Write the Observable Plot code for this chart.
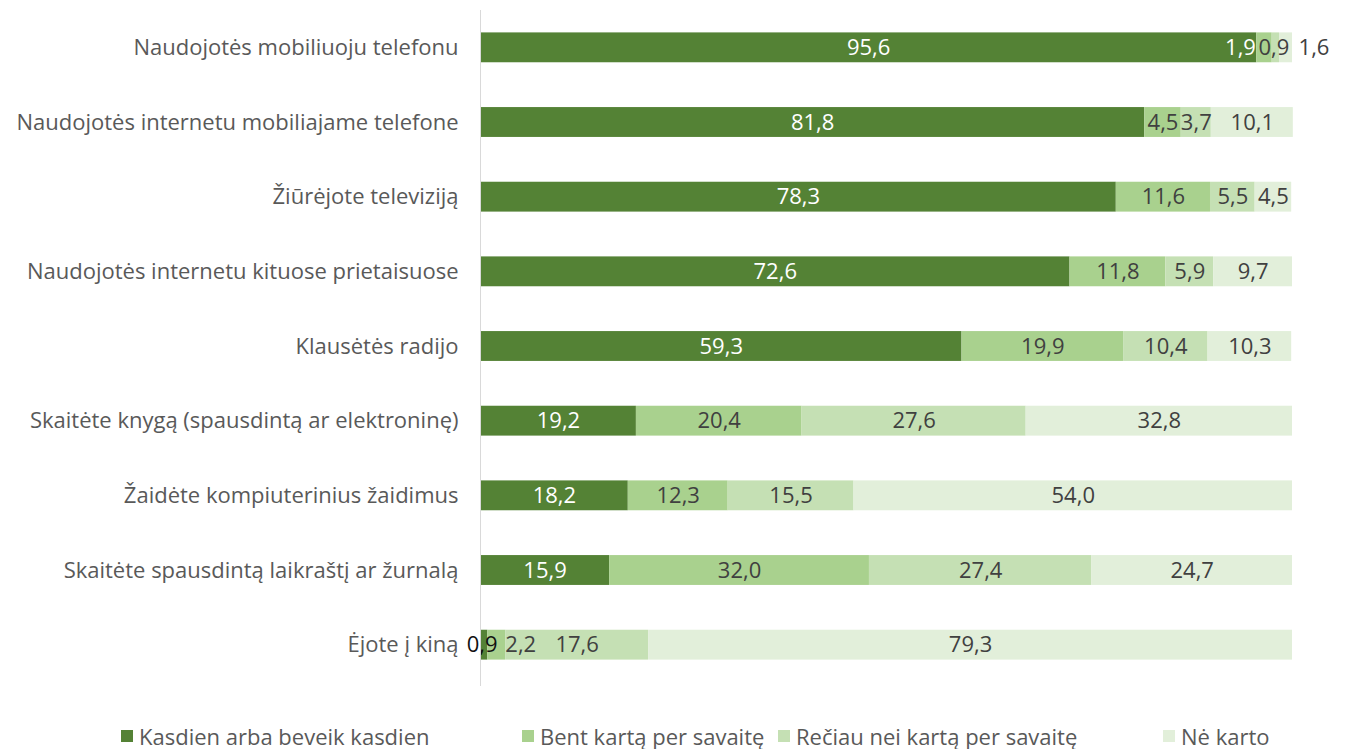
<!DOCTYPE html>
<html>
<head>
<meta charset="utf-8">
<script src="https://cdn.jsdelivr.net/npm/d3@7"></script>
<script src="https://cdn.jsdelivr.net/npm/@observablehq/plot@0.6"></script>
<style>
  html, body { margin: 0; padding: 0; background: #fff; }
  #chart { width: 1347px; }
  .legend { position: relative; height: 30px; margin-top: 19px; font-family: "Open Sans", sans-serif; font-size: 22px; color: #595959; }
  .legend .item { display: flex; align-items: center; position: absolute; top: 0; height: 30px; white-space: nowrap; }
  .legend .sw { width: 12px; height: 12px; margin-right: 6px; }
</style>
</head>
<body>
<div id="chart"></div>
<script>
const categories = [
  "Naudojotės mobiliuoju telefonu",
  "Naudojotės internetu mobiliajame telefone",
  "Žiūrėjote televiziją",
  "Naudojotės internetu kituose prietaisuose",
  "Klausėtės radijo",
  "Skaitėte knygą (spausdintą ar elektroninę)",
  "Žaidėte kompiuterinius žaidimus",
  "Skaitėte spausdintą laikraštį ar žurnalą",
  "Ėjote į kiną"
];
const series = ["Kasdien arba beveik kasdien", "Bent kartą per savaitę", "Rečiau nei kartą per savaitę", "Nė karto"];
const kasdien = [95.6, 81.8, 78.3, 72.6, 59.3, 19.2, 18.2, 15.9, 0.9];
const savaite = [1.9, 4.5, 11.6, 11.8, 19.9, 20.4, 12.3, 32.0, 2.2];
const reciau  = [0.9, 3.7, 5.5, 5.9, 10.4, 27.6, 15.5, 27.4, 17.6];
const neKarto = [1.6, 10.1, 4.5, 9.7, 10.3, 32.8, 54.0, 24.7, 79.3];
const colors = ["#548235", "#a9d18e", "#c5e0b4", "#e2efda"];

const cols = [kasdien, savaite, reciau, neKarto];
const data = [];
categories.forEach((c, i) => {
  let acc = 0;
  cols.forEach((arr, s) => {
    const v = arr[i];
    data.push({cat: c, series: series[s], s, value: v, ci: i, x1: acc, x2: acc + v, xm: acc + v / 2});
    acc += v;
  });
});

// pixel nudges for crowded labels (styling only)
function labelDx(d) {
  if (d.ci === 0 && d.s === 1) return -24;
  if (d.ci === 0 && d.s === 2) return -2;
  if (d.ci === 0 && d.s === 3) return 28;
  if (d.ci === 8 && d.s === 0) return -2;
  if (d.ci === 8 && d.s === 1) return 24;
  return 0;
}
function labelFill(d) {
  if (d.ci === 0 && d.s === 1) return "#ffffff";
  if (d.s === 0 && d.value > 1) return "#ffffff";
  if (d.s === 0) return "#111111";
  return "#404040";
}
const fmt = v => v.toFixed(1).replace(".", ",");

const keyOf = d => labelDx(d) + "|" + labelFill(d);
const keys = Array.from(new Set(data.map(keyOf)));
const textMarks = keys.map(key => {
  const [dx, fill] = key.split("|");
  return Plot.text(data.filter(d => keyOf(d) === key), {
    x: "xm", y: "cat", text: d => fmt(d.value),
    dx: +dx, fill, fontSize: 22, fontFamily: "Open Sans, sans-serif"
  });
});

const plot = Plot.plot({
  width: 1347,
  height: 702,
  marginLeft: 480,
  marginRight: 55,
  marginTop: 10,
  marginBottom: 20,
  style: {fontFamily: "Open Sans, sans-serif"},
  x: {domain: [0, 100], axis: null},
  y: {domain: categories, paddingInner: 0.6, paddingOuter: 0.3, round: false, axis: null},
  color: {domain: series, range: colors},
  marks: [
    Plot.barX(data, {x1: "x1", x2: "x2", y: "cat", fill: "series"}),
    ...textMarks,
    Plot.ruleX([0], {stroke: "#d9d9d9", insetBottom: -4, insetTop: 0}),
    Plot.axisY({tickSize: 0, tickPadding: 22, fontSize: 22, fill: "#595959", label: null})
  ]
});
document.getElementById("chart").appendChild(plot);

const legend = document.createElement("div");
legend.className = "legend";
const lefts = [121, 522, 778, 1163];
series.forEach((s, i) => {
  const it = document.createElement("div");
  it.className = "item";
  it.style.left = lefts[i] + "px";
  it.innerHTML = `<span class="sw" style="background:${colors[i]}"></span><span>${s}</span>`;
  legend.appendChild(it);
});
document.body.appendChild(legend);
</script>
</body>
</html>
